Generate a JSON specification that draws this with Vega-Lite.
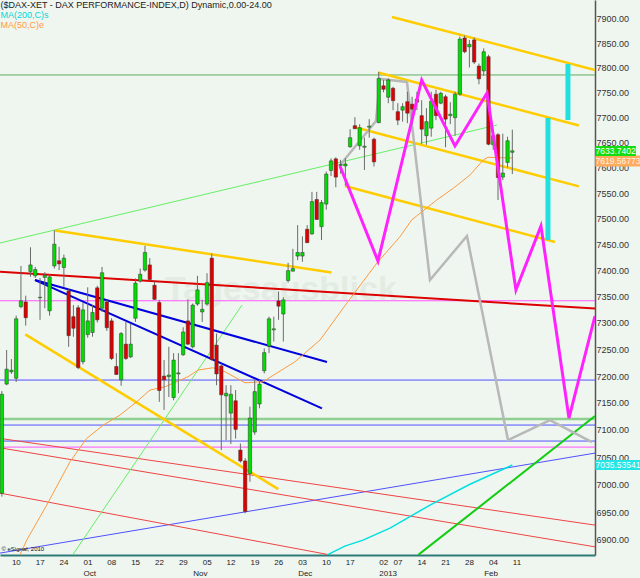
{
  "$schema": "https://vega.github.io/schema/vega-lite/v6.json",
  "width": 595,
  "height": 555,
  "autosize": {"type": "none"},
  "padding": {"left": 0, "top": 0, "right": 45, "bottom": 23},
  "background": "#eff6ef",
  "config": {"view": {"stroke": null}, "font": "Liberation Sans, Arial"},
  "datasets": {
    "k": [
      {"i":-2,"o":6984,"h":7172,"l":6978,"c":7166},{"i":-1,"o":7185,"h":7249,"l":7183,"c":7213},{"i":0,"o":7208,"h":7232,"l":7204,"c":7211},
      {"i":1,"o":7196,"h":7314,"l":7189,"c":7308},{"i":2,"o":7331,"h":7409,"l":7328,"c":7342},{"i":3,"o":7340,"h":7352,"l":7295,"c":7310},
      {"i":4,"o":7398,"h":7445,"l":7388,"c":7411},{"i":5,"o":7390,"h":7407,"l":7386,"c":7402},{"i":6,"o":7348,"h":7386,"l":7306,"c":7349},
      {"i":7,"o":7387,"h":7397,"l":7328,"c":7391},{"i":8,"o":7323,"h":7393,"l":7314,"c":7388},{"i":9,"o":7409,"h":7478,"l":7404,"c":7451},
      {"i":10,"o":7419,"h":7446,"l":7401,"c":7413},{"i":11,"o":7406,"h":7431,"l":7369,"c":7424},{"i":12,"o":7361,"h":7365,"l":7255,"c":7276},
      {"i":13,"o":7312,"h":7334,"l":7274,"c":7290},{"i":14,"o":7329,"h":7334,"l":7213,"c":7216},{"i":15,"o":7227,"h":7339,"l":7222,"c":7325},
      {"i":16,"o":7278,"h":7368,"l":7272,"c":7304},{"i":17,"o":7282,"h":7334,"l":7274,"c":7320},{"i":18,"o":7367,"h":7371,"l":7301,"c":7306},
      {"i":19,"o":7328,"h":7407,"l":7321,"c":7396},{"i":20,"o":7340,"h":7344,"l":7285,"c":7291},{"i":21,"o":7304,"h":7309,"l":7230,"c":7233},
      {"i":22,"o":7218,"h":7243,"l":7202,"c":7203},{"i":23,"o":7193,"h":7283,"l":7182,"c":7280},{"i":24,"o":7260,"h":7302,"l":7230,"c":7233},
      {"i":25,"o":7236,"h":7299,"l":7234,"c":7260},{"i":26,"o":7309,"h":7385,"l":7302,"c":7376},{"i":27,"o":7380,"h":7404,"l":7377,"c":7393},
      {"i":28,"o":7401,"h":7448,"l":7398,"c":7435},{"i":29,"o":7411,"h":7424,"l":7380,"c":7383},{"i":30,"o":7372,"h":7379,"l":7344,"c":7345},
      {"i":31,"o":7339,"h":7344,"l":7152,"c":7173},{"i":32,"o":7200,"h":7230,"l":7137,"c":7193},{"i":33,"o":7199,"h":7255,"l":7161,"c":7202},
      {"i":34,"o":7160,"h":7243,"l":7155,"c":7230},{"i":35,"o":7204,"h":7243,"l":7168,"c":7206},{"i":36,"o":7240,"h":7292,"l":7238,"c":7283},
      {"i":37,"o":7304,"h":7345,"l":7258,"c":7260},{"i":38,"o":7255,"h":7337,"l":7252,"c":7334},{"i":39,"o":7336,"h":7390,"l":7333,"c":7363},
      {"i":40,"o":7321,"h":7344,"l":7302,"c":7326},{"i":41,"o":7336,"h":7395,"l":7333,"c":7377},{"i":42,"o":7424,"h":7433,"l":7229,"c":7231},
      {"i":43,"o":7258,"h":7280,"l":7183,"c":7204},{"i":44,"o":7219,"h":7224,"l":7063,"c":7165},{"i":45,"o":7163,"h":7183,"l":7081,"c":7168},
      {"i":46,"o":7131,"h":7183,"l":7074,"c":7166},{"i":47,"o":7154,"h":7174,"l":7084,"c":7101},{"i":48,"o":7063,"h":7075,"l":7040,"c":7043},
      {"i":49,"o":7043,"h":7048,"l":6948,"c":6951},{"i":50,"o":7020,"h":7143,"l":7005,"c":7122},{"i":51,"o":7096,"h":7193,"l":7091,"c":7171},
      {"i":52,"o":7148,"h":7193,"l":7140,"c":7185},{"i":53,"o":7210,"h":7252,"l":7205,"c":7244},{"i":54,"o":7256,"h":7312,"l":7243,"c":7308},
      {"i":55,"o":7287,"h":7312,"l":7265,"c":7289},{"i":56,"o":7342,"h":7360,"l":7306,"c":7332},{"i":57,"o":7317,"h":7349,"l":7265,"c":7344},
      {"i":58,"o":7381,"h":7415,"l":7377,"c":7400},{"i":59,"o":7399,"h":7442,"l":7398,"c":7404},{"i":60,"o":7428,"h":7488,"l":7420,"c":7435},
      {"i":61,"o":7428,"h":7466,"l":7417,"c":7435},{"i":62,"o":7480,"h":7488,"l":7453,"c":7454},{"i":63,"o":7471,"h":7553,"l":7469,"c":7534},
      {"i":64,"o":7538,"h":7553,"l":7498,"c":7499},{"i":65,"o":7485,"h":7537,"l":7459,"c":7532},{"i":66,"o":7529,"h":7593,"l":7518,"c":7588},
      {"i":67,"o":7595,"h":7619,"l":7584,"c":7614},{"i":68,"o":7618,"h":7621,"l":7562,"c":7582},{"i":69,"o":7605,"h":7616,"l":7589,"c":7607},
      {"i":70,"o":7604,"h":7619,"l":7565,"c":7608},{"i":71,"o":7642,"h":7677,"l":7640,"c":7660},{"i":72,"o":7684,"h":7701,"l":7677,"c":7678},
      {"i":73,"o":7644,"h":7687,"l":7636,"c":7680},{"i":74,"o":7641,"h":7660,"l":7596,"c":7643},{"i":75,"o":7681,"h":7697,"l":7660,"c":7683},
      {"i":76,"o":7657,"h":7660,"l":7603,"c":7612},{"i":77,"o":7690,"h":7792,"l":7689,"c":7779},{"i":78,"o":7764,"h":7776,"l":7751,"c":7757},
      {"i":79,"o":7741,"h":7779,"l":7729,"c":7776},{"i":80,"o":7759,"h":7762,"l":7715,"c":7734},{"i":81,"o":7712,"h":7729,"l":7685,"c":7695},
      {"i":82,"o":7715,"h":7729,"l":7692,"c":7722},{"i":83,"o":7732,"h":7752,"l":7689,"c":7709},{"i":84,"o":7727,"h":7742,"l":7689,"c":7717},
      {"i":85,"o":7737,"h":7752,"l":7715,"c":7731},{"i":86,"o":7704,"h":7735,"l":7648,"c":7677},{"i":87,"o":7664,"h":7719,"l":7646,"c":7692},
      {"i":88,"o":7679,"h":7752,"l":7662,"c":7733},{"i":89,"o":7747,"h":7756,"l":7695,"c":7704},{"i":90,"o":7729,"h":7752,"l":7727,"c":7749},
      {"i":91,"o":7742,"h":7746,"l":7641,"c":7697},{"i":92,"o":7704,"h":7731,"l":7687,"c":7707},{"i":93,"o":7700,"h":7752,"l":7664,"c":7747},
      {"i":94,"o":7747,"h":7864,"l":7744,"c":7859},{"i":95,"o":7861,"h":7866,"l":7830,"c":7833},{"i":96,"o":7843,"h":7857,"l":7801,"c":7848},
      {"i":97,"o":7857,"h":7862,"l":7808,"c":7812},{"i":98,"o":7804,"h":7809,"l":7767,"c":7778},{"i":99,"o":7794,"h":7840,"l":7784,"c":7833},
      {"i":100,"o":7823,"h":7827,"l":7645,"c":7647},{"i":101,"o":7646,"h":7676,"l":7636,"c":7664},{"i":102,"o":7666,"h":7669,"l":7537,"c":7581},
      {"i":103,"o":7582,"h":7668,"l":7576,"c":7590},{"i":104,"o":7611,"h":7662,"l":7601,"c":7654},{"i":105,"o":7631,"h":7676,"l":7588,"c":7634}
    ],
    "seg": [
      {"k":"grn1","i1":-2.39,"p1":7785.9,"i2":122.33,"p2":7785.9},
      {"k":"grn2","i1":-2.39,"p1":7120.1,"i2":122.33,"p2":7120.1},
      {"k":"blt","i1":-2.39,"p1":7192.6,"i2":122.33,"p2":7192.6},
      {"k":"blt","i1":-2.39,"p1":7109.0,"i2":122.33,"p2":7109.0},
      {"k":"blt","i1":-2.39,"p1":7079.5,"i2":122.33,"p2":7079.5},
      {"k":"blt","i1":-2.39,"p1":6876.4,"i2":122.33,"p2":7057.4},
      {"k":"mag","i1":-2.39,"p1":7342.3,"i2":122.33,"p2":7342.3},
      {"k":"mag","i1":-2.39,"p1":7068.4,"i2":122.33,"p2":7068.4},
      {"k":"redt","i1":-2.39,"p1":7084.4,"i2":122.33,"p2":6926.6},
      {"k":"redt","i1":-2.39,"p1":7067.1,"i2":122.33,"p2":6887.6},
      {"k":"redt","i1":-2.39,"p1":6984.4,"i2":66.78,"p2":6873.2},
      {"k":"lime","i1":-2.39,"p1":7453.3,"i2":101.78,"p2":7685.3},
      {"k":"lime","i1":12.85,"p1":6873.2,"i2":48.33,"p2":7334.1},
      {"k":"lime2","i1":85.29,"p1":6873.2,"i2":122.33,"p2":7125.6},
      {"k":"redk","i1":-2.39,"p1":7397.9,"i2":122.33,"p2":7327.5},
      {"k":"blk","i1":4.95,"p1":7381.9,"i2":66.15,"p2":7226.3},
      {"k":"blk","i1":4.95,"p1":7381.9,"i2":65.10,"p2":7139.9},
      {"k":"yel","i1":79.77,"p1":7904.1,"i2":122.33,"p2":7796.0},
      {"k":"yel","i1":76.84,"p1":7790.9,"i2":118.97,"p2":7684.4},
      {"k":"yel","i1":71.81,"p1":7681.4,"i2":118.97,"p2":7563.7},
      {"k":"yel","i1":69.92,"p1":7564.5,"i2":113.94,"p2":7455.2},
      {"k":"yel","i1":9.14,"p1":7477.5,"i2":67.09,"p2":7396.3},
      {"k":"yel","i1":2.91,"p1":7278.5,"i2":55.94,"p2":6991.7},
      {"k":"cyanbar","i1":112.47,"p1":7699.3,"i2":112.47,"p2":7459.1},
      {"k":"cyanbar","i1":116.66,"p1":7808.2,"i2":116.66,"p2":7695.3}
    ],
    "zz": [
      {"k":"mag","s":0,"i":68.87,"p":7603.9},{"k":"mag","s":1,"i":76.84,"p":7418.5},{"k":"mag","s":2,"i":86.0,"p":7775.8},
      {"k":"mag","s":3,"i":92.98,"p":7643.5},{"k":"mag","s":4,"i":99.69,"p":7749.5},{"k":"mag","s":5,"i":105.76,"p":7362.8},
      {"k":"mag","s":6,"i":111.0,"p":7486.3},{"k":"mag","s":7,"i":116.87,"p":7121.9},{"k":"mag","s":8,"i":122.33,"p":7313.2},
      {"k":"gray","s":0,"i":69.08,"p":7607.8},{"k":"gray","s":1,"i":76.42,"p":7693.3},{"k":"gray","s":2,"i":77.26,"p":7777.8},
      {"k":"gray","s":3,"i":82.92,"p":7771.7},{"k":"gray","s":4,"i":87.74,"p":7381.9},{"k":"gray","s":5,"i":95.49,"p":7466.8},
      {"k":"gray","s":6,"i":104.09,"p":7081.3},{"k":"gray","s":7,"i":112.89,"p":7118.2},{"k":"gray","s":8,"i":121.69,"p":7077.6}
    ],
    "ma": [
      {"k":"MA50","i":1.80,"p":6873.2},{"k":"MA50","i":3.21,"p":6899.6},{"k":"MA50","i":7.40,"p":6962.7},{"k":"MA50","i":12.28,"p":7041.5},
      {"k":"MA50","i":15.78,"p":7084.4},{"k":"MA50","i":19.26,"p":7109.0},{"k":"MA50","i":22.76,"p":7127.5},{"k":"MA50","i":26.26,"p":7152.1},
      {"k":"MA50","i":29.05,"p":7173.9},{"k":"MA50","i":32.19,"p":7180.1},{"k":"MA50","i":37.02,"p":7198.8},{"k":"MA50","i":39.11,"p":7211.3},
      {"k":"MA50","i":42.26,"p":7215.6},{"k":"MA50","i":44.77,"p":7208.1},{"k":"MA50","i":48.96,"p":7187.5},{"k":"MA50","i":52.73,"p":7189.4},
      {"k":"MA50","i":56.65,"p":7211.3},{"k":"MA50","i":59.44,"p":7226.9},{"k":"MA50","i":64.68,"p":7267.7},{"k":"MA50","i":70.28,"p":7337.4},
      {"k":"MA50","i":76.57,"p":7414.1},{"k":"MA50","i":81.45,"p":7465.5},{"k":"MA50","i":83.90,"p":7498.0},{"k":"MA50","i":89.14,"p":7537.0},
      {"k":"MA50","i":92.62,"p":7560.0},{"k":"MA50","i":96.12,"p":7586.1},{"k":"MA50","i":98.91,"p":7615.8},{"k":"MA50","i":99.90,"p":7621.1},
      {"k":"MA50","i":105,"p":7619.6},
      {"k":"MA200","i":66.2,"p":6873.2},{"k":"MA200","i":69.9,"p":6888.9},{"k":"MA200","i":73.7,"p":6899.6},{"k":"MA200","i":79.35,"p":6921.2},
      {"k":"MA200","i":87.74,"p":6962.7},{"k":"MA200","i":96.12,"p":7000.5},{"k":"MA200","i":105,"p":7035.5}
    ]
  },
  "layer": [
    {"data":{"values":[{"t":"Tagesausblick"}]},"mark":{"type":"text","align":"left","baseline":"middle","fontSize":34,"fontWeight":"bold","color":"#e3ece3"},
     "encoding":{
      "x":{"datum":32.2,"type":"quantitative","scale":{"type":"linear","domain":[-2.39,122.33],"nice":false,"zero":false,"padding":0},
        "axis":{"orient":"bottom","title":null,"grid":false,"ticks":false,"domainColor":"#2d7a78","domainWidth":2,"tickCount":60,
          "values":[0,5,10,15,20,25,30,35,38,40,45,50,55,60,65,70,77,80,85,90,95,99,100,105],
          "labelExpr":"{'0':'10','5':'17','10':'24','15':['01','Oct'],'20':'08','25':'15','30':'22','35':'29','38':['','Nov'],'40':'05','45':'12','50':'19','55':'26','60':['03','Dec'],'65':'10','70':'17','77':['02','2013'],'80':'07','85':'14','90':'21','95':'28','99':['','Feb'],'100':'04','105':'11'}[datum.value]",
          "labelAlign":"left","labelBaseline":"top","labelPadding":3,"labelFontSize":8,"labelColor":"#222","labelLineHeight":11,
          "labelOverlap":false,"labelBound":false,"labelFlush":false}},
      "y":{"datum":7362.8,"type":"quantitative","scale":{"type":"log","domain":[6873,7939],"nice":false,"padding":0},
        "axis":{"orient":"right","title":null,"grid":false,"ticks":false,"domainColor":"#555","domainWidth":1.5,"tickCount":60,
          "values":[6900,6950,7000,7050,7100,7150,7200,7250,7300,7350,7400,7450,7500,7550,7600,7650,7700,7750,7800,7850,7900],
          "format":".2f","labelAlign":"left","labelBaseline":"middle","labelPadding":1,"labelFontSize":9,"labelColor":"#333",
          "labelOverlap":false,"labelBound":false,"labelFlush":false}},
      "text":{"field":"t"}}},
    {"data":{"name":"seg"},"transform":[{"filter":"datum.k=='grn1'"}],"mark":{"type":"rule","color":"#5fae5f","strokeWidth":1,"clip":true},
     "encoding":{"x":{"field":"i1","type":"quantitative","scale":{"type":"linear","domain":[-2.39,122.33],"nice":false,"zero":false,"padding":0}},"x2":{"field":"i2"},
      "y":{"field":"p1","type":"quantitative","scale":{"type":"log","domain":[6873,7939],"nice":false,"padding":0}},"y2":{"field":"p2"}}},
    {"data":{"name":"seg"},"transform":[{"filter":"datum.k=='grn2'"}],"mark":{"type":"rule","color":"#8fcf8f","strokeWidth":2.5,"clip":true},
     "encoding":{"x":{"field":"i1","type":"quantitative","scale":{"type":"linear","domain":[-2.39,122.33],"nice":false,"zero":false,"padding":0}},"x2":{"field":"i2"},
      "y":{"field":"p1","type":"quantitative","scale":{"type":"log","domain":[6873,7939],"nice":false,"padding":0}},"y2":{"field":"p2"}}},
    {"data":{"name":"seg"},"transform":[{"filter":"datum.k=='blt'"}],"mark":{"type":"rule","color":"#5050ff","strokeWidth":1,"clip":true},
     "encoding":{"x":{"field":"i1","type":"quantitative","scale":{"type":"linear","domain":[-2.39,122.33],"nice":false,"zero":false,"padding":0}},"x2":{"field":"i2"},
      "y":{"field":"p1","type":"quantitative","scale":{"type":"log","domain":[6873,7939],"nice":false,"padding":0}},"y2":{"field":"p2"}}},
    {"data":{"name":"seg"},"transform":[{"filter":"datum.k=='mag'"}],"mark":{"type":"rule","color":"#ff55ff","strokeWidth":1,"clip":true},
     "encoding":{"x":{"field":"i1","type":"quantitative","scale":{"type":"linear","domain":[-2.39,122.33],"nice":false,"zero":false,"padding":0}},"x2":{"field":"i2"},
      "y":{"field":"p1","type":"quantitative","scale":{"type":"log","domain":[6873,7939],"nice":false,"padding":0}},"y2":{"field":"p2"}}},
    {"data":{"name":"seg"},"transform":[{"filter":"datum.k=='redt'"}],"mark":{"type":"rule","color":"#ee4444","strokeWidth":1,"clip":true},
     "encoding":{"x":{"field":"i1","type":"quantitative","scale":{"type":"linear","domain":[-2.39,122.33],"nice":false,"zero":false,"padding":0}},"x2":{"field":"i2"},
      "y":{"field":"p1","type":"quantitative","scale":{"type":"log","domain":[6873,7939],"nice":false,"padding":0}},"y2":{"field":"p2"}}},
    {"data":{"name":"seg"},"transform":[{"filter":"datum.k=='lime'"}],"mark":{"type":"rule","color":"#66ee66","strokeWidth":1,"clip":true},
     "encoding":{"x":{"field":"i1","type":"quantitative","scale":{"type":"linear","domain":[-2.39,122.33],"nice":false,"zero":false,"padding":0}},"x2":{"field":"i2"},
      "y":{"field":"p1","type":"quantitative","scale":{"type":"log","domain":[6873,7939],"nice":false,"padding":0}},"y2":{"field":"p2"}}},
    {"data":{"name":"seg"},"transform":[{"filter":"datum.k=='lime2'"}],"mark":{"type":"rule","color":"#11cc11","strokeWidth":2,"clip":true},
     "encoding":{"x":{"field":"i1","type":"quantitative","scale":{"type":"linear","domain":[-2.39,122.33],"nice":false,"zero":false,"padding":0}},"x2":{"field":"i2"},
      "y":{"field":"p1","type":"quantitative","scale":{"type":"log","domain":[6873,7939],"nice":false,"padding":0}},"y2":{"field":"p2"}}},
    {"data":{"name":"seg"},"transform":[{"filter":"datum.k=='redk'"}],"mark":{"type":"rule","color":"#dd0000","strokeWidth":2,"clip":true},
     "encoding":{"x":{"field":"i1","type":"quantitative","scale":{"type":"linear","domain":[-2.39,122.33],"nice":false,"zero":false,"padding":0}},"x2":{"field":"i2"},
      "y":{"field":"p1","type":"quantitative","scale":{"type":"log","domain":[6873,7939],"nice":false,"padding":0}},"y2":{"field":"p2"}}},
    {"data":{"name":"seg"},"transform":[{"filter":"datum.k=='blk'"}],"mark":{"type":"rule","color":"#0000dd","strokeWidth":2,"clip":true},
     "encoding":{"x":{"field":"i1","type":"quantitative","scale":{"type":"linear","domain":[-2.39,122.33],"nice":false,"zero":false,"padding":0}},"x2":{"field":"i2"},
      "y":{"field":"p1","type":"quantitative","scale":{"type":"log","domain":[6873,7939],"nice":false,"padding":0}},"y2":{"field":"p2"}}},
    {"data":{"name":"seg"},"transform":[{"filter":"datum.k=='yel'"}],"mark":{"type":"rule","color":"#ffcc00","strokeWidth":2.5,"clip":true},
     "encoding":{"x":{"field":"i1","type":"quantitative","scale":{"type":"linear","domain":[-2.39,122.33],"nice":false,"zero":false,"padding":0}},"x2":{"field":"i2"},
      "y":{"field":"p1","type":"quantitative","scale":{"type":"log","domain":[6873,7939],"nice":false,"padding":0}},"y2":{"field":"p2"}}},
    {"data":{"name":"zz"},"transform":[{"filter":"datum.k=='gray'"}],"mark":{"type":"line","color":"#b8b8b8","strokeWidth":2.5,"clip":true},
     "encoding":{"x":{"field":"i","type":"quantitative","scale":{"type":"linear","domain":[-2.39,122.33],"nice":false,"zero":false,"padding":0}},
      "y":{"field":"p","type":"quantitative","scale":{"type":"log","domain":[6873,7939],"nice":false,"padding":0}},"order":{"field":"s"}}},
    {"data":{"name":"ma"},"transform":[{"filter":"datum.k=='MA50'"}],"mark":{"type":"line","color":"#ff9a40","strokeWidth":1,"clip":true},
     "encoding":{"x":{"field":"i","type":"quantitative","scale":{"type":"linear","domain":[-2.39,122.33],"nice":false,"zero":false,"padding":0}},
      "y":{"field":"p","type":"quantitative","scale":{"type":"log","domain":[6873,7939],"nice":false,"padding":0}}}},
    {"data":{"name":"ma"},"transform":[{"filter":"datum.k=='MA200'"}],"mark":{"type":"line","color":"#00e0e0","strokeWidth":1.5,"clip":true},
     "encoding":{"x":{"field":"i","type":"quantitative","scale":{"type":"linear","domain":[-2.39,122.33],"nice":false,"zero":false,"padding":0}},
      "y":{"field":"p","type":"quantitative","scale":{"type":"log","domain":[6873,7939],"nice":false,"padding":0}}}},
    {"data":{"name":"k"},"mark":{"type":"rule","color":"#6a6a6a","strokeWidth":1},
     "encoding":{"x":{"field":"i","type":"quantitative","scale":{"type":"linear","domain":[-2.39,122.33],"nice":false,"zero":false,"padding":0}},
      "y":{"field":"l","type":"quantitative","scale":{"type":"log","domain":[6873,7939],"nice":false,"padding":0}},"y2":{"field":"h"}}},
    {"data":{"name":"k"},"mark":{"type":"bar","size":3.4,"stroke":"#333","strokeWidth":0.5},
     "encoding":{"x":{"field":"i","type":"quantitative","scale":{"type":"linear","domain":[-2.39,122.33],"nice":false,"zero":false,"padding":0}},
      "y":{"field":"o","type":"quantitative","scale":{"type":"log","domain":[6873,7939],"nice":false,"padding":0}},"y2":{"field":"c"},
      "color":{"condition":{"test":"datum.c>=datum.o","value":"#00dd00"},"value":"#dd0000"}}},
    {"data":{"name":"zz"},"transform":[{"filter":"datum.k=='mag'"}],"mark":{"type":"line","color":"#ff22ff","strokeWidth":3,"clip":true},
     "encoding":{"x":{"field":"i","type":"quantitative","scale":{"type":"linear","domain":[-2.39,122.33],"nice":false,"zero":false,"padding":0}},
      "y":{"field":"p","type":"quantitative","scale":{"type":"log","domain":[6873,7939],"nice":false,"padding":0}},"order":{"field":"s"}}},
    {"data":{"name":"seg"},"transform":[{"filter":"datum.k=='cyanbar'"}],"mark":{"type":"rule","color":"#22e0e0","strokeWidth":5,"clip":true},
     "encoding":{"x":{"field":"i1","type":"quantitative","scale":{"type":"linear","domain":[-2.39,122.33],"nice":false,"zero":false,"padding":0}},"x2":{"field":"i2"},
      "y":{"field":"p1","type":"quantitative","scale":{"type":"log","domain":[6873,7939],"nice":false,"padding":0}},"y2":{"field":"p2"}}},
    {"data":{"values":[{"t":"($DAX-XET - DAX PERFORMANCE-INDEX,D) Dynamic,0.00-24.00"}]},"mark":{"type":"text","align":"left","baseline":"middle","fontSize":9,"color":"#222"},
     "encoding":{"x":{"datum":-2.3,"type":"quantitative","scale":{"type":"linear","domain":[-2.39,122.33],"nice":false,"zero":false,"padding":0}},
      "y":{"datum":7927.8,"type":"quantitative","scale":{"type":"log","domain":[6873,7939],"nice":false,"padding":0}},"text":{"field":"t"}}},
    {"data":{"values":[{"t":"MA(200,C)s"}]},"mark":{"type":"text","align":"left","baseline":"middle","fontSize":9,"color":"#00d8d8"},
     "encoding":{"x":{"datum":-2.3,"type":"quantitative","scale":{"type":"linear","domain":[-2.39,122.33],"nice":false,"zero":false,"padding":0}},
      "y":{"datum":7907.2,"type":"quantitative","scale":{"type":"log","domain":[6873,7939],"nice":false,"padding":0}},"text":{"field":"t"}}},
    {"data":{"values":[{"t":"MA(50,C)e"}]},"mark":{"type":"text","align":"left","baseline":"middle","fontSize":9,"color":"#ff9a40"},
     "encoding":{"x":{"datum":-2.3,"type":"quantitative","scale":{"type":"linear","domain":[-2.39,122.33],"nice":false,"zero":false,"padding":0}},
      "y":{"datum":7886.7,"type":"quantitative","scale":{"type":"log","domain":[6873,7939],"nice":false,"padding":0}},"text":{"field":"t"}}},
    {"data":{"values":[{"t":"© eSignal, 2010"}]},"mark":{"type":"text","align":"left","baseline":"middle","fontSize":6,"color":"#111"},
     "encoding":{"x":{"datum":-2.1,"type":"quantitative","scale":{"type":"linear","domain":[-2.39,122.33],"nice":false,"zero":false,"padding":0}},
      "y":{"datum":6883.5,"type":"quantitative","scale":{"type":"log","domain":[6873,7939],"nice":false,"padding":0}},"text":{"field":"t"}}},
    {"data":{"values":[{"v":7619.56773,"t":"7619.56773"}]},"mark":{"type":"bar","orient":"horizontal","size":11,"color":"#ffab5e","yOffset":3},
     "encoding":{"x":{"datum":122.4,"type":"quantitative","scale":{"type":"linear","domain":[-2.39,122.33],"nice":false,"zero":false,"padding":0}},"x2":{"datum":131.9},
      "y":{"field":"v","type":"quantitative","scale":{"type":"log","domain":[6873,7939],"nice":false,"padding":0}}}},
    {"data":{"values":[{"v":7619.56773,"t":"7619.56773"}]},"mark":{"type":"text","align":"left","baseline":"middle","fontSize":8.5,"color":"#fff4e4","yOffset":3},
     "encoding":{"x":{"datum":122.45,"type":"quantitative","scale":{"type":"linear","domain":[-2.39,122.33],"nice":false,"zero":false,"padding":0}},
      "y":{"field":"v","type":"quantitative","scale":{"type":"log","domain":[6873,7939],"nice":false,"padding":0}},"text":{"field":"t"}}},
    {"data":{"values":[{"v":7633.7402,"t":"7633.7402"}]},"mark":{"type":"bar","orient":"horizontal","size":10,"color":"#11dd11"},
     "encoding":{"x":{"datum":122.4,"type":"quantitative","scale":{"type":"linear","domain":[-2.39,122.33],"nice":false,"zero":false,"padding":0}},"x2":{"datum":130.9},
      "y":{"field":"v","type":"quantitative","scale":{"type":"log","domain":[6873,7939],"nice":false,"padding":0}}}},
    {"data":{"values":[{"v":7633.7402,"t":"7633.7402"}]},"mark":{"type":"text","align":"left","baseline":"middle","fontSize":8.5,"color":"#ffffff"},
     "encoding":{"x":{"datum":122.45,"type":"quantitative","scale":{"type":"linear","domain":[-2.39,122.33],"nice":false,"zero":false,"padding":0}},
      "y":{"field":"v","type":"quantitative","scale":{"type":"log","domain":[6873,7939],"nice":false,"padding":0}},"text":{"field":"t"}}},
    {"data":{"values":[{"v":7035.53541,"t":"7035.53541"}]},"mark":{"type":"bar","orient":"horizontal","size":10,"color":"#22e6e6"},
     "encoding":{"x":{"datum":122.4,"type":"quantitative","scale":{"type":"linear","domain":[-2.39,122.33],"nice":false,"zero":false,"padding":0}},"x2":{"datum":131.9},
      "y":{"field":"v","type":"quantitative","scale":{"type":"log","domain":[6873,7939],"nice":false,"padding":0}}}},
    {"data":{"values":[{"v":7035.53541,"t":"7035.53541"}]},"mark":{"type":"text","align":"left","baseline":"middle","fontSize":8.5,"color":"#ffffff"},
     "encoding":{"x":{"datum":122.45,"type":"quantitative","scale":{"type":"linear","domain":[-2.39,122.33],"nice":false,"zero":false,"padding":0}},
      "y":{"field":"v","type":"quantitative","scale":{"type":"log","domain":[6873,7939],"nice":false,"padding":0}},"text":{"field":"t"}}}
  ]
}
